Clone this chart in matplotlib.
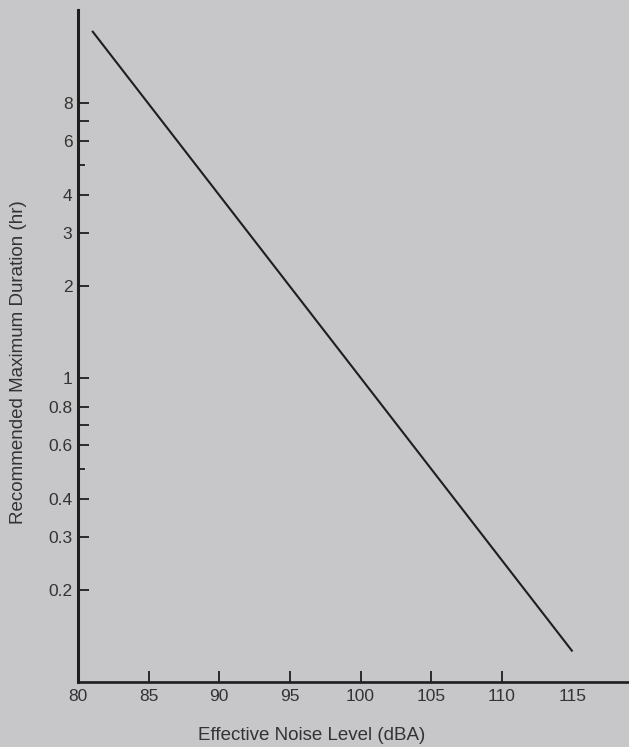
import matplotlib.pyplot as plt
from matplotlib.ticker import FixedLocator, NullFormatter

plt.rcParams['font.family'] = ['Liberation Sans', 'DejaVu Sans']

# line: 8 hr at 85 dBA, end points only
noise_level = [81, 115]
max_duration = [13.8, 0.126]

x_ticks = [80, 85, 90, 95, 100, 105, 110, 115]
y_ticks = [0.2, 0.3, 0.4, 0.6, 0.8, 1, 2, 3, 4, 6, 8]
y_ticklabels = ['0.2', '0.3', '0.4', '0.6', '0.8', '1', '2', '3', '4', '6', '8']
y_unlabeled = [0.7, 7]
y_minor = [0.5, 5]

bg = '#c7c7c9'
ink = '#1e1e1e'

fig = plt.figure(figsize=(6.29, 7.47), dpi=100, facecolor=bg)
ax = fig.add_axes([0.124, 0.087, 0.876, 0.9], facecolor=bg)

ax.plot(noise_level, max_duration, color=ink, lw=1.5, solid_capstyle='butt')

ax.set_yscale('log')
ax.set_xlim(80, 119)
ax.set_ylim(0.1, 16.2)

for s in ['top', 'right']:
    ax.spines[s].set_visible(False)
ax.spines['left'].set_linewidth(2.2)
ax.spines['bottom'].set_linewidth(1.9)
ax.spines['left'].set_color(ink)
ax.spines['bottom'].set_color(ink)

ax.set_xticks(x_ticks)
ax.set_xticklabels([str(t) for t in x_ticks])
ax.tick_params(axis='x', direction='in', length=8, width=1.3, colors=ink,
               labelsize=12.5, pad=5, labelcolor='#333333')
xt = ax.xaxis.get_major_ticks()
xt[0].tick1line.set_visible(False)
xt[-1].tick1line.set_visible(False)

ax.yaxis.set_major_locator(FixedLocator(y_ticks + y_unlabeled))
ax.yaxis.set_major_formatter(plt.FixedFormatter(y_ticklabels + ['', '']))
ax.yaxis.set_minor_locator(FixedLocator(y_minor))
ax.yaxis.set_minor_formatter(NullFormatter())
ax.tick_params(axis='y', which='major', direction='in', length=8, width=1.3,
               colors=ink, labelsize=12.5, pad=4, labelcolor='#333333')
ax.tick_params(axis='y', which='minor', direction='in', length=5, width=1.3,
               colors=ink)

fig.text(0.496, 0.016, 'Effective Noise Level (dBA)', ha='center',
         va='center', fontsize=13.5, color='#333333')
fig.text(0.029, 0.515, 'Recommended Maximum Duration (hr)', rotation=90,
         ha='center', va='center', fontsize=13.5, color='#333333')

fig.savefig('out.png', dpi=100, facecolor=bg)
